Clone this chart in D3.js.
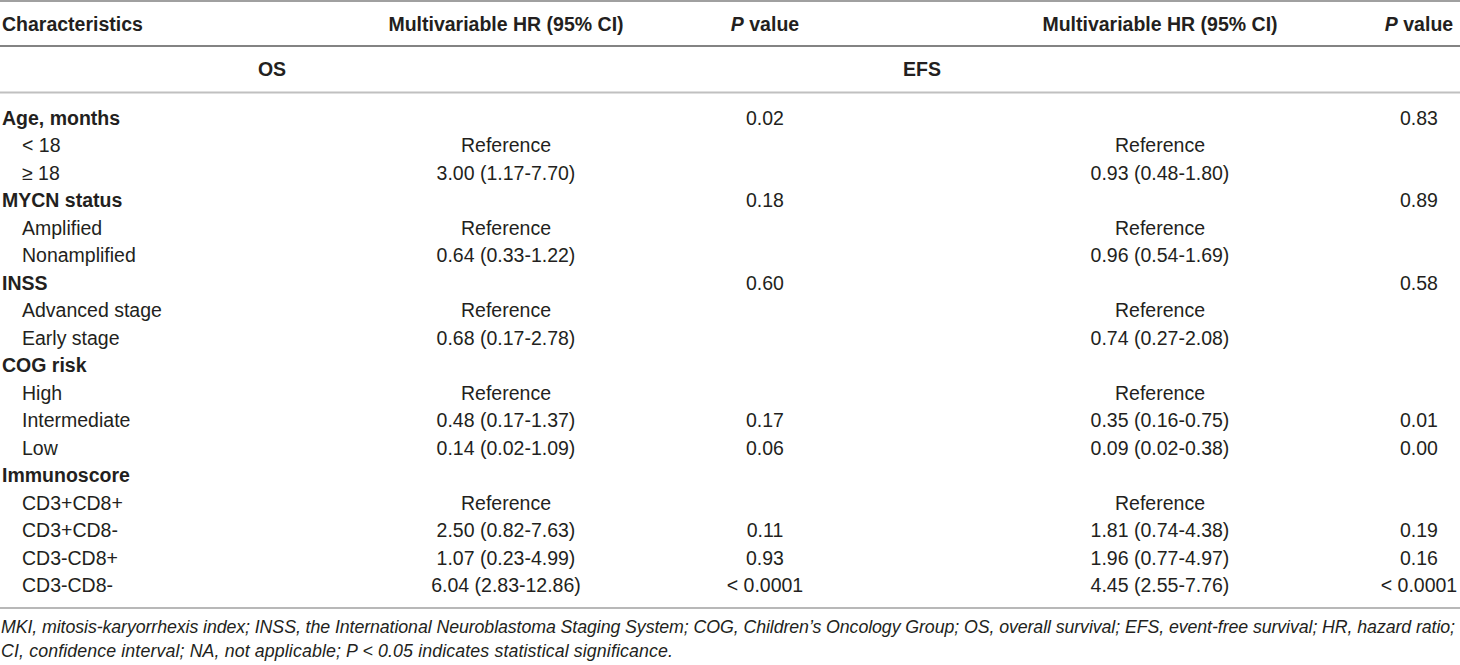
<!DOCTYPE html>
<html>
<head>
<meta charset="utf-8">
<script src="https://cdn.jsdelivr.net/npm/d3@7"></script>
<style>
  html, body { margin: 0; padding: 0; background: #fff; }
  svg { display: block; }
  text { font-family: "Liberation Sans", Arial, Helvetica, sans-serif; fill: #231f20; }
</style>
</head>
<body>
<svg id="chart" width="1460" height="665"></svg>
<script>
// ---- data ----
const headers = ["Characteristics", "Multivariable HR (95% CI)", "P value", "Multivariable HR (95% CI)", "P value"];
const sections = ["OS", "EFS"];
const labels = ["Age, months", "< 18", "\u2265 18", "MYCN status", "Amplified", "Nonamplified",
  "INSS", "Advanced stage", "Early stage", "COG risk", "High", "Intermediate", "Low",
  "Immunoscore", "CD3+CD8+", "CD3+CD8-", "CD3-CD8+", "CD3-CD8-"];
const isGroup = [true, false, false, true, false, false, true, false, false, true, false, false, false, true, false, false, false, false];
const hrOS = ["", "Reference", "3.00 (1.17-7.70)", "", "Reference", "0.64 (0.33-1.22)", "", "Reference", "0.68 (0.17-2.78)",
  "", "Reference", "0.48 (0.17-1.37)", "0.14 (0.02-1.09)", "", "Reference", "2.50 (0.82-7.63)", "1.07 (0.23-4.99)", "6.04 (2.83-12.86)"];
const pOS = ["0.02", "", "", "0.18", "", "", "0.60", "", "", "", "", "0.17", "0.06", "", "", "0.11", "0.93", "< 0.0001"];
const hrEFS = ["", "Reference", "0.93 (0.48-1.80)", "", "Reference", "0.96 (0.54-1.69)", "", "Reference", "0.74 (0.27-2.08)",
  "", "Reference", "0.35 (0.16-0.75)", "0.09 (0.02-0.38)", "", "Reference", "1.81 (0.74-4.38)", "1.96 (0.77-4.97)", "4.45 (2.55-7.76)"];
const pEFS = ["0.83", "", "", "0.89", "", "", "0.58", "", "", "", "", "0.01", "0.00", "", "", "0.19", "0.16", "< 0.0001"];
const footnotes = [
  "MKI, mitosis-karyorrhexis index; INSS, the International Neuroblastoma Staging System; COG, Children\u2019s Oncology Group; OS, overall survival; EFS, event-free survival; HR, hazard ratio;",
  "CI, confidence interval; NA, not applicable; P < 0.05 indicates statistical significance."
];

// ---- layout ----
const W = 1460, H = 665;
const svg = d3.select("#chart");
const FS = 19.5;
const colKeys = ["label", "hrOS", "pOS", "hrEFS", "pEFS"];
const xCol = d3.scaleOrdinal().domain(colKeys).range([2, 506, 765, 1160, 1419]);
const anchorCol = d3.scaleOrdinal().domain(colKeys).range(["start", "middle", "middle", "middle", "middle"]);
const xSection = d3.scaleOrdinal().domain(sections).range([272, 922]);

// row centers
const y = d3.scalePoint().domain(d3.range(labels.length)).range([118, 585]);
const base = c => c + 7;

// rules
const rules = [
  {y: 1, c: "#a0a0a0", w: 2},
  {y: 46, c: "#5a5a5a", w: 1.5},
  {y: 92.5, c: "#c0c0c0", w: 2},
  {y: 608, c: "#a0a0a0", w: 1.5}
];
svg.selectAll("line.rule").data(rules).join("line")
  .attr("class", "rule")
  .attr("x1", 0).attr("x2", W)
  .attr("y1", d => d.y).attr("y2", d => d.y)
  .attr("stroke", d => d.c).attr("stroke-width", d => d.w);

// header
const hdr = svg.append("g").attr("font-weight", "bold").attr("font-size", FS);
headers.forEach((h, i) => {
  const k = colKeys[i];
  const t = hdr.append("text").attr("x", xCol(k)).attr("y", base(24)).attr("text-anchor", anchorCol(k));
  if (h.startsWith("P ")) {
    t.append("tspan").attr("font-style", "italic").text("P");
    t.append("tspan").text(h.slice(1));
  } else {
    t.text(h);
  }
});

// section row
svg.append("g").attr("font-weight", "bold").attr("font-size", FS)
  .selectAll("text").data(sections).join("text")
  .attr("x", d => xSection(d)).attr("y", base(69)).attr("text-anchor", "middle")
  .text(d => d);

// body
const rows = labels.map((l, i) => ({i, label: l, group: isGroup[i], hrOS: hrOS[i], pOS: pOS[i], hrEFS: hrEFS[i], pEFS: pEFS[i]}));
const body = svg.append("g").attr("font-size", FS);
const rowG = body.selectAll("g.row").data(rows).join("g").attr("class", "row");
rowG.append("text")
  .attr("x", d => d.group ? xCol("label") : xCol("label") + 20)
  .attr("y", d => base(y(d.i)))
  .attr("font-weight", d => d.group ? "bold" : "normal")
  .text(d => d.label);
["hrOS", "pOS", "hrEFS", "pEFS"].forEach(k => {
  rowG.filter(d => d[k] !== "").append("text")
    .attr("x", xCol(k)).attr("y", d => base(y(d.i)))
    .attr("text-anchor", anchorCol(k))
    .text(d => d[k]);
});

// footnotes
const fnWidths = [1454, 672];
const fn = svg.append("g").attr("font-size", 17.8).attr("font-style", "italic");
fn.selectAll("text").data(footnotes).join("text")
  .attr("x", 1).attr("y", (d, i) => base(626 + i * 24) - 0.5)
  .attr("textLength", (d, i) => fnWidths[i])
  .attr("lengthAdjust", "spacing")
  .text(d => d);
</script>
</body>
</html>
